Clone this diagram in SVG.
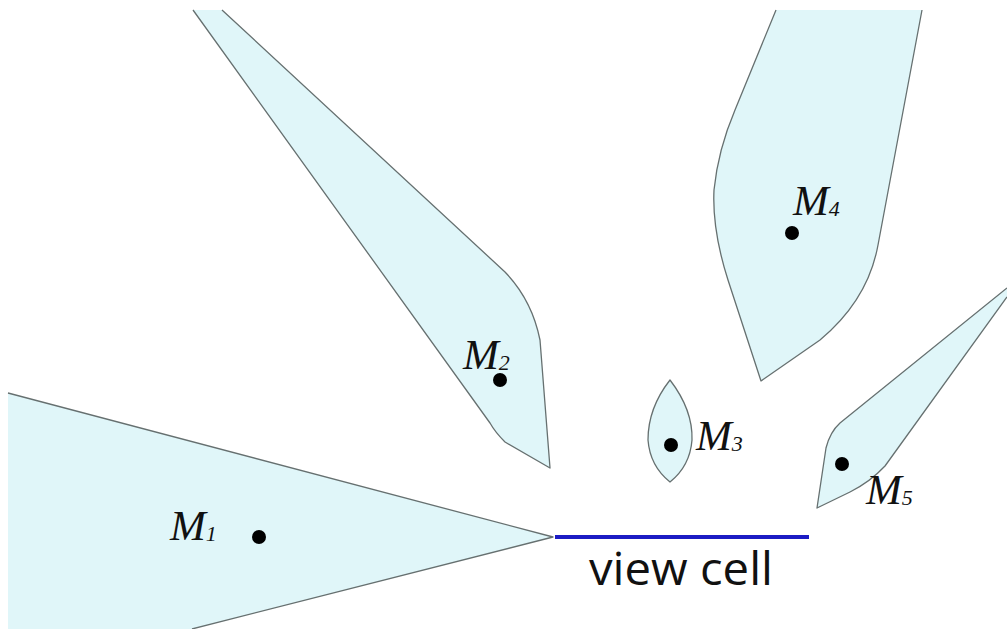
<svg xmlns="http://www.w3.org/2000/svg" width="1007" height="629" viewBox="0 0 1007 629">
<style>
.fill{fill:#e0f6f9;stroke:none}
.edge{fill:none;stroke:#667070;stroke-width:1.3;stroke-linejoin:round}
.dot{fill:#000}
.lbl{font-family:"Liberation Serif",serif;font-style:italic;font-size:43px;fill:#111}
.sub{font-size:22px}
.vc{font-family:"Open Sans","DejaVu Sans",sans-serif;font-size:45px;fill:#111}
</style>
<rect width="1007" height="629" fill="#fff"/>
<g id="M1">
<path class="fill" d="M8,393 L553,537 L192,629 L8,629 Z"/>
<path class="edge" d="M8,393 L553,537 L192,629"/>
<circle class="dot" cx="259" cy="537" r="7"/>
<text class="lbl" x="170" y="540">M<tspan class="sub" dy="1">1</tspan></text>
</g>
<g id="M2">
<path class="fill" d="M193,10 L222,10 L505,272 Q532,300 540,340 L550,468 L505,442 Q495,432 490,423 Z"/>
<path class="edge" d="M222,10 L505,272 Q532,300 540,340 L550,468 L505,442 Q495,432 490,423 L193,10"/>
<circle class="dot" cx="500" cy="380" r="7"/>
<text class="lbl" x="463" y="369">M<tspan class="sub" dy="1">2</tspan></text>
</g>
<g id="M3">
<path class="fill" d="M670,380 Q693,410 692,440 Q690,466 670,482 Q650,466 648,440 Q648,408 670,380 Z"/>
<path class="edge" d="M670,380 Q693,410 692,440 Q690,466 670,482 Q650,466 648,440 Q648,408 670,380 Z"/>
<circle class="dot" cx="671" cy="445" r="7"/>
<text class="lbl" x="696" y="450">M<tspan class="sub" dy="1">3</tspan></text>
</g>
<g id="M4">
<path class="fill" d="M776,10 L922,10 L878,245 Q868,300 820,340 L761,381 L728,280 Q712,230 714,190 Q718,150 735,110 Z"/>
<path class="edge" d="M922,10 L878,245 Q868,300 820,340 L761,381 L728,280 Q712,230 714,190 Q718,150 735,110 L776,10"/>
<circle class="dot" cx="792" cy="233" r="7"/>
<text class="lbl" x="793" y="215">M<tspan class="sub" dy="1">4</tspan></text>
</g>
<g id="M5">
<path class="fill" d="M1007,288 L1007,297 L885,466 Q870,482 850,492 L817,508 L826,448 Q830,432 840,423 Z"/>
<path class="edge" d="M1007,288 L840,423 Q830,432 826,448 L817,508 L850,492 Q870,482 885,466 L1007,297"/>
<circle class="dot" cx="842" cy="464" r="7"/>
<text class="lbl" x="866" y="504">M<tspan class="sub" dy="1">5</tspan></text>
</g>
<g id="viewcell">
<line x1="555" y1="537" x2="809" y2="537" stroke="#1c1cc4" stroke-width="4"/>
<text class="vc" x="589" y="585" textLength="184" lengthAdjust="spacingAndGlyphs">view cell</text>
</g>
</svg>
